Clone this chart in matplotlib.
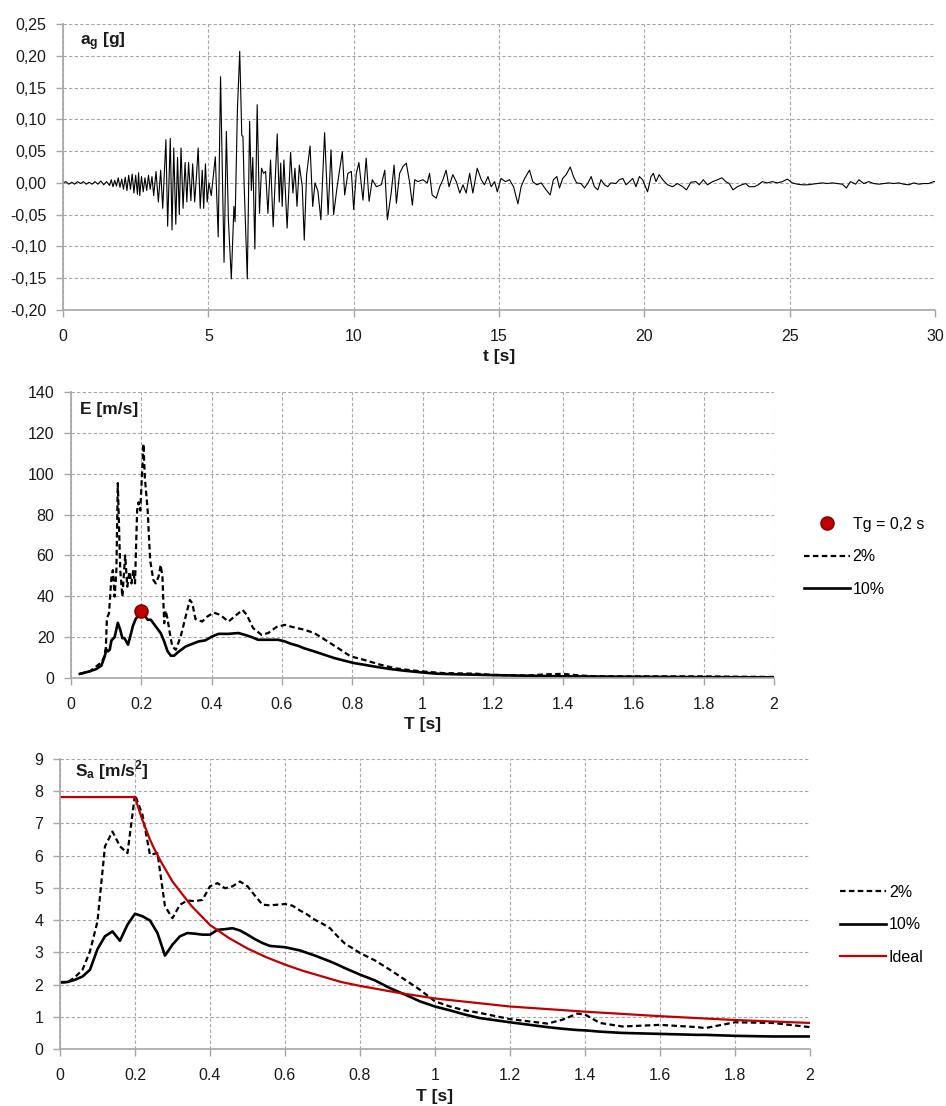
import matplotlib
matplotlib.use("Agg")
import matplotlib.pyplot as plt
from matplotlib.lines import Line2D

# ground acceleration record (t in s, a in g)
acc_t = [0.00, 0.10, 0.20, 0.30, 0.40, 0.50, 0.60, 0.70, 0.80, 0.90, 1.00, 1.10, 1.20, 1.30,
         1.40, 1.50, 1.60, 1.66, 1.72, 1.78, 1.84, 1.90, 1.96, 2.02, 2.08, 2.14, 2.20, 2.26,
         2.32, 2.38, 2.44, 2.50, 2.56, 2.60, 2.64, 2.70, 2.76, 2.82, 2.88, 2.94, 3.00, 3.06,
         3.12, 3.20, 3.28, 3.36, 3.43, 3.54, 3.60, 3.69, 3.75, 3.81, 3.88, 3.94, 4.00, 4.06,
         4.13, 4.20, 4.26, 4.32, 4.40, 4.46, 4.53, 4.59, 4.65, 4.72, 4.79, 4.84, 4.90, 4.96,
         5.02, 5.10, 5.24, 5.34, 5.42, 5.54, 5.62, 5.69, 5.79, 5.88, 5.92, 6.00, 6.08, 6.15,
         6.19, 6.23, 6.34, 6.42, 6.48, 6.53, 6.60, 6.68, 6.76, 6.83, 6.90, 6.97, 7.05, 7.14,
         7.23, 7.37, 7.44, 7.49, 7.54, 7.60, 7.71, 7.83, 7.91, 7.98, 8.05, 8.13, 8.17, 8.23,
         8.30, 8.38, 8.50, 8.59, 8.67, 8.77, 8.87, 9.00, 9.12, 9.22, 9.31, 9.43, 9.50, 9.61,
         9.69, 9.80, 9.92, 10.00, 10.09, 10.18, 10.32, 10.43, 10.53, 10.64, 10.78, 10.95,
         11.07, 11.16, 11.29, 11.39, 11.47, 11.58, 11.70, 11.81, 11.92, 12.02, 12.10, 12.21,
         12.38, 12.53, 12.61, 12.70, 12.84, 12.96, 13.07, 13.18, 13.28, 13.41, 13.53, 13.65,
         13.76, 13.87, 13.99, 14.10, 14.25, 14.39, 14.50, 14.62, 14.73, 14.85, 14.94, 15.07,
         15.22, 15.36, 15.50, 15.65, 15.76, 15.88, 16.05, 16.16, 16.30, 16.45, 16.62, 16.76,
         16.87, 16.99, 17.08, 17.19, 17.31, 17.45, 17.56, 17.67, 17.82, 17.94, 18.05, 18.17,
         18.28, 18.40, 18.51, 18.63, 18.74, 18.85, 19.02, 19.14, 19.26, 19.37, 19.49, 19.60,
         19.71, 19.83, 19.94, 20.11, 20.23, 20.31, 20.40, 20.51, 20.63, 20.80, 20.97, 21.14,
         21.32, 21.45, 21.60, 21.77, 21.89, 22.03, 22.17, 22.35, 22.52, 22.67, 22.80, 22.92,
         23.05, 23.20, 23.35, 23.49, 23.60, 23.78, 23.92, 24.06, 24.23, 24.40, 24.58, 24.75,
         24.92, 25.09, 25.26, 25.43, 25.61, 25.78, 25.95, 26.12, 26.29, 26.46, 26.64, 26.81,
         26.95, 27.09, 27.27, 27.38, 27.55, 27.72, 27.89, 28.07, 28.24, 28.41, 28.58, 28.75,
         28.92, 29.10, 29.27, 29.44, 29.61, 29.78, 29.95, 30.00]
acc_g = [0.000, 0.002, -0.002, 0.001, -0.002, 0.002, -0.001, 0.002, -0.002, 0.001, -0.002,
         0.002, -0.002, 0.003, -0.003, 0.002, -0.004, 0.005, -0.006, 0.004, -0.005, 0.008,
         -0.007, 0.006, -0.010, 0.009, -0.012, 0.012, -0.010, 0.014, -0.016, 0.012, -0.018,
         0.016, -0.020, 0.010, -0.014, 0.008, -0.012, 0.012, -0.010, 0.010, -0.020, 0.018,
         -0.030, 0.020, -0.040, 0.068, -0.068, 0.070, -0.074, 0.055, -0.065, 0.040, -0.050,
         0.055, -0.040, 0.032, -0.030, 0.032, -0.028, 0.030, -0.030, 0.010, 0.055, -0.040,
         0.020, -0.040, 0.030, -0.030, 0.000, -0.020, 0.041, -0.085, 0.167, -0.125, 0.081,
         -0.058, -0.151, -0.037, -0.061, 0.115, 0.207, 0.075, 0.073, 0.000, -0.151, 0.097,
         -0.012, 0.040, -0.104, 0.123, -0.048, 0.023, 0.015, 0.018, -0.048, 0.036, -0.069,
         0.077, -0.030, 0.031, -0.037, 0.036, -0.071, 0.048, -0.016, 0.023, -0.037, 0.028,
         0.015, -0.005, -0.090, 0.013, 0.058, -0.037, 0.000, -0.013, -0.058, 0.079, -0.050,
         0.052, -0.050, -0.006, 0.015, 0.049, -0.019, 0.015, 0.018, -0.042, 0.015, 0.032,
         -0.027, 0.039, -0.029, 0.005, -0.006, -0.003, 0.020, -0.058, -0.016, 0.028, -0.032,
         0.015, 0.026, 0.031, 0.002, -0.035, 0.005, 0.002, 0.005, 0.000, 0.015, -0.019,
         -0.024, -0.006, 0.005, 0.020, -0.006, 0.013, 0.002, -0.016, -0.003, -0.016, 0.015,
         -0.016, 0.023, 0.005, -0.003, 0.010, -0.006, 0.002, -0.014, 0.007, 0.002, 0.005,
         -0.006, -0.033, -0.006, 0.007, 0.020, 0.002, -0.003, 0.000, -0.011, -0.019, 0.005,
         0.010, -0.008, 0.007, 0.013, 0.025, 0.010, 0.000, -0.001, -0.008, -0.001, 0.010,
         -0.006, -0.011, 0.005, -0.003, -0.006, 0.000, -0.001, 0.005, 0.007, -0.003, 0.002,
         0.007, -0.006, 0.010, 0.005, -0.014, 0.010, 0.015, 0.002, 0.013, 0.005, -0.003,
         -0.006, -0.001, -0.006, -0.011, 0.001, 0.002, -0.003, 0.005, -0.003, 0.002, 0.005,
         0.008, 0.002, -0.001, -0.011, -0.006, -0.003, -0.001, -0.006, -0.006, -0.003, 0.002,
         0.000, 0.002, 0.000, 0.002, 0.006, 0.000, -0.002, -0.003, -0.003, -0.002, -0.001,
         0.000, -0.001, 0.000, -0.001, -0.002, -0.008, 0.002, -0.002, 0.005, -0.001, 0.002,
         -0.001, -0.002, -0.001, 0.000, -0.001, 0.000, -0.002, -0.003, 0.000, -0.002, -0.001,
         -0.001, 0.002, 0.002]

# input energy spectra E [m/s]
e_T10 = [0.025, 0.054, 0.072, 0.086, 0.096, 0.100, 0.105, 0.110, 0.115, 0.124, 0.133, 0.140,
         0.146, 0.152, 0.162, 0.168, 0.176, 0.185, 0.195, 0.200, 0.208, 0.218, 0.227, 0.241,
         0.255, 0.265, 0.274, 0.284, 0.293, 0.307, 0.326, 0.345, 0.363, 0.382, 0.401, 0.420,
         0.448, 0.476, 0.495, 0.514, 0.532, 0.551, 0.589, 0.608, 0.626, 0.645, 0.664, 0.692,
         0.720, 0.748, 0.777, 0.805, 0.833, 0.870, 0.908, 0.946, 0.993, 1.040, 1.096, 1.152,
         1.20, 1.30, 1.40, 1.50, 1.60, 1.70, 1.80, 1.90, 2.00]
e_10 = [2.0, 3.3, 4.4, 6.0, 10.6, 14.0, 13.0, 13.8, 18.4, 20.0, 27.0, 23.6, 19.5, 19.5, 16.3,
        20.0, 25.5, 29.3, 30.4, 32.0, 31.0, 28.5, 28.5, 25.2, 22.0, 17.9, 13.3, 10.9, 10.9,
        13.0, 15.4, 16.7, 17.9, 18.4, 20.3, 21.6, 21.6, 22.0, 21.1, 20.0, 18.7, 18.7, 18.7,
        17.9, 16.7, 15.8, 14.5, 13.0, 11.4, 9.8, 8.5, 7.3, 6.5, 5.4, 4.4, 3.6, 2.8, 2.1, 1.8,
        1.6, 1.4, 1.1, 0.8, 0.7, 0.6, 0.5, 0.4, 0.35, 0.3]
e_T2 = [0.025, 0.054, 0.072, 0.086, 0.093, 0.099, 0.102, 0.108, 0.115, 0.119, 0.124, 0.129,
        0.133, 0.140, 0.146, 0.154, 0.160, 0.166, 0.172, 0.177, 0.182, 0.188, 0.192, 0.197,
        0.206, 0.210, 0.218, 0.225, 0.234, 0.241, 0.249, 0.255, 0.260, 0.265, 0.269, 0.274,
        0.281, 0.288, 0.298, 0.312, 0.326, 0.338, 0.345, 0.354, 0.373, 0.387, 0.406, 0.424,
        0.448, 0.467, 0.488, 0.500, 0.518, 0.542, 0.561, 0.584, 0.608, 0.631, 0.664, 0.692,
        0.730, 0.767, 0.795, 0.833, 0.880, 0.927, 0.993, 1.058, 1.152, 1.20, 1.30, 1.35,
        1.40, 1.45, 1.50, 1.60, 1.70, 1.80, 1.90, 2.00]
e_2 = [2.0, 3.3, 5.7, 7.6, 9.8, 14.6, 29.3, 31.7, 49.6, 52.8, 39.8, 52.8, 95.4, 52.8, 39.8,
       60.0, 44.7, 52.0, 46.3, 52.8, 46.3, 82.0, 86.0, 82.0, 114.6, 98.0, 82.0, 57.7, 48.0,
       46.3, 49.6, 55.3, 49.6, 26.8, 33.0, 29.3, 22.0, 15.4, 13.8, 20.3, 30.0, 38.2, 36.6,
       28.8, 27.6, 30.0, 32.0, 30.9, 27.6, 30.4, 33.3, 30.9, 24.4, 21.1, 22.0, 24.9, 26.0,
       24.9, 23.6, 22.0, 17.9, 13.8, 10.6, 8.9, 6.5, 4.6, 3.3, 2.4, 2.1, 1.5, 1.2, 1.8, 2.0,
       1.2, 0.8, 0.8, 0.8, 0.8, 0.6, 0.5]
tg_T = [0.2]
tg_E = [33.0]

# acceleration spectra Sa [m/s2]
sa_T = [0.00, 0.02, 0.04, 0.06, 0.08, 0.10, 0.12, 0.14, 0.16, 0.18, 0.20, 0.22, 0.24, 0.26,
        0.28, 0.30, 0.32, 0.34, 0.36, 0.38, 0.40, 0.42, 0.44, 0.46, 0.48, 0.50, 0.52, 0.54,
        0.56, 0.58, 0.60, 0.62, 0.64, 0.66, 0.68, 0.70, 0.72, 0.74, 0.76, 0.78, 0.80, 0.84,
        0.88, 0.92, 0.96, 1.00, 1.04, 1.08, 1.12, 1.20, 1.30, 1.34, 1.38, 1.40, 1.44, 1.50,
        1.60, 1.70, 1.72, 1.80, 1.90, 2.00]
sa_2 = [2.07, 2.07, 2.23, 2.46, 3.03, 3.96, 6.29, 6.75, 6.29, 6.08, 7.89, 7.27, 6.03, 6.08,
        4.43, 4.06, 4.48, 4.61, 4.59, 4.63, 5.05, 5.15, 4.99, 5.05, 5.20, 5.05, 4.76, 4.48,
        4.46, 4.48, 4.50, 4.45, 4.30, 4.17, 4.01, 3.89, 3.75, 3.50, 3.27, 3.13, 2.98, 2.75,
        2.46, 2.15, 1.84, 1.48, 1.32, 1.20, 1.12, 0.93, 0.79, 0.91, 1.10, 1.07, 0.81, 0.70,
        0.75, 0.68, 0.65, 0.83, 0.81, 0.68]
sa_10 = [2.07, 2.08, 2.15, 2.25, 2.46, 3.10, 3.50, 3.65, 3.36, 3.86, 4.20, 4.12, 3.99, 3.60,
         2.90, 3.24, 3.50, 3.60, 3.58, 3.55, 3.55, 3.70, 3.72, 3.75, 3.68, 3.55, 3.41, 3.29,
         3.20, 3.18, 3.16, 3.11, 3.06, 2.98, 2.90, 2.81, 2.72, 2.62, 2.51, 2.41, 2.31, 2.13,
         1.89, 1.69, 1.48, 1.32, 1.20, 1.07, 0.96, 0.83, 0.68, 0.63, 0.59, 0.58, 0.54, 0.50,
         0.47, 0.44, 0.44, 0.41, 0.39, 0.39]
ideal_T = [0.00, 0.20, 0.21, 0.22, 0.24, 0.25, 0.27, 0.30, 0.35, 0.40, 0.45, 0.50, 0.55, 0.60,
           0.65, 0.70, 0.75, 0.80, 0.90, 1.00, 1.20, 1.40, 1.60, 1.80, 2.00]
ideal_sa = [7.82, 7.82, 7.45, 7.10, 6.50, 6.25, 5.80, 5.20, 4.45, 3.85, 3.45, 3.12, 2.85, 2.62,
            2.42, 2.25, 2.08, 1.96, 1.75, 1.57, 1.32, 1.16, 1.02, 0.90, 0.81]

acc_ticks = [-0.20, -0.15, -0.10, -0.05, 0.00, 0.05, 0.10, 0.15, 0.20, 0.25]
period_ticks = [0, 0.2, 0.4, 0.6, 0.8, 1.0, 1.2, 1.4, 1.6, 1.8, 2.0]
period_labels = ["0", "0.2", "0.4", "0.6", "0.8", "1", "1.2", "1.4", "1.6", "1.8", "2"]

plt.rcParams['font.family'] = ['Liberation Sans', 'DejaVu Sans']
plt.rcParams['mathtext.fontset'] = 'custom'
plt.rcParams['mathtext.rm'] = 'Liberation Sans'
plt.rcParams['mathtext.bf'] = 'Liberation Sans:bold'

GRID = '#a6a6a6'
TXT = '#1a1a1a'
RED = '#c00000'


def style(ax):
    ax.grid(True, color=GRID, linestyle=(0, (3, 2)), linewidth=0.8)
    ax.set_axisbelow(True)
    for s in ['top', 'right']:
        ax.spines[s].set_visible(False)
    for s in ['left', 'bottom']:
        ax.spines[s].set_color(GRID)
        ax.spines[s].set_linewidth(1.2)
    ax.tick_params(direction='out', length=5, width=1, color=GRID,
                   labelsize=11.5, labelcolor=TXT)
    ax.tick_params(axis='x', pad=9)
    ax.tick_params(axis='y', pad=7)


fig = plt.figure(figsize=(9.46, 11.06), dpi=100)

# accelerogram
ax1 = fig.add_axes([0.0666, 0.7197, 0.9218, 0.2586])
style(ax1)
ax1.plot(acc_t, acc_g, color='black', linewidth=0.8)
ax1.set_xlim(0, 30)
ax1.set_ylim(-0.20, 0.25)
ax1.set_xticks([0, 5, 10, 15, 20, 25, 30])
ax1.set_yticks(acc_ticks)
ax1.set_yticklabels([('%.2f' % v).replace('.', ',') for v in acc_ticks])
ax1.set_xlabel('t [s]', fontsize=12.5, fontweight='bold', color=TXT, labelpad=3)
ax1.text(0.019, 0.937, r'$\mathbf{a_g}$ [g]', transform=ax1.transAxes,
         fontsize=12.5, fontweight='bold', color=TXT, va='center', ha='left')

# energy spectra
ax2 = fig.add_axes([0.0751, 0.3870, 0.7431, 0.2586])
style(ax2)
ax2.plot(e_T2, e_2, color='black', linewidth=1.6, dashes=(2.5, 1.5))
ax2.plot(e_T10, e_10, color='black', linewidth=1.9)
ax2.plot(tg_T, tg_E, 'o', color=RED, markeredgecolor='#7a0000', markersize=9.5)
ax2.set_xlim(0, 2)
ax2.set_ylim(0, 140)
ax2.set_xticks(period_ticks)
ax2.set_xticklabels(period_labels)
ax2.set_yticks(range(0, 141, 20))
ax2.set_xlabel('T [s]', fontsize=12.5, fontweight='bold', color=TXT, labelpad=3)
ax2.text(0.013, 0.937, 'E [m/s]', transform=ax2.transAxes, fontsize=12.5,
         fontweight='bold', color=TXT, va='center', ha='left')

h2 = [Line2D([], [], linestyle='none', marker='o', color=RED, markeredgecolor='#7a0000',
             markersize=9.5),
      Line2D([], [], color='black', linewidth=1.6, dashes=(2.5, 1.5)),
      Line2D([], [], color='black', linewidth=1.9)]
fig.legend(h2, ['Tg = 0,2 s', '2%', '10%'], loc='center left',
           bbox_to_anchor=(0.8499, 0.4965), frameon=False, fontsize=11.5,
           handlelength=2.9, handletextpad=0.15, labelspacing=1.1,
           borderpad=0, borderaxespad=0)

# acceleration spectra
ax3 = fig.add_axes([0.0634, 0.0515, 0.7928, 0.2622])
style(ax3)
ax3.plot(sa_T, sa_2, color='black', linewidth=1.6, dashes=(2.5, 1.5))
ax3.plot(sa_T, sa_10, color='black', linewidth=1.9)
ax3.plot(ideal_T, ideal_sa, color=RED, linewidth=1.6)
ax3.set_xlim(0, 2)
ax3.set_ylim(0, 9)
ax3.set_xticks(period_ticks)
ax3.set_xticklabels(period_labels)
ax3.set_yticks(range(0, 10))
ax3.set_xlabel('T [s]', fontsize=12.5, fontweight='bold', color=TXT, labelpad=4)
ax3.text(0.02, 0.962, r'$\mathbf{S_a}$ [m/s$^\mathbf{2}$]', transform=ax3.transAxes,
         fontsize=12.5, fontweight='bold', color=TXT, va='center', ha='left')

h3 = [Line2D([], [], color='black', linewidth=1.6, dashes=(2.5, 1.5)),
      Line2D([], [], color='black', linewidth=1.9),
      Line2D([], [], color=RED, linewidth=1.6)]
fig.legend(h3, ['2%', '10%', 'Ideal'], loc='center left',
           bbox_to_anchor=(0.888, 0.1640), frameon=False, fontsize=11.5,
           handlelength=2.9, handletextpad=0.15, labelspacing=1.1,
           borderpad=0, borderaxespad=0)

fig.savefig('out.png', dpi=100)
